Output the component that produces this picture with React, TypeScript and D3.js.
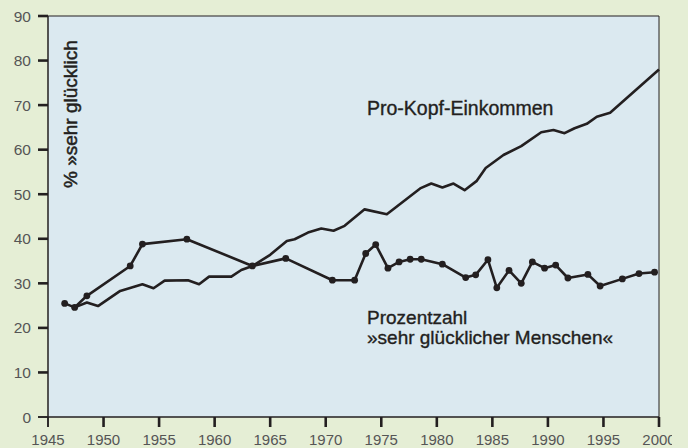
import * as d3 from 'd3';

const WIDTH = 688;
const HEIGHT = 448;
const MARGIN = { top: 16, right: 29, bottom: 31, left: 48 };

// Prozentzahl "sehr glücklicher Menschen" (with dots)
const happyYears = [
    1946.5, 1947.4, 1948.5, 1952.4, 1953.5, 1957.5, 1963.4, 1966.4, 1970.6, 1972.6,
    1973.6, 1974.5, 1975.6, 1976.6, 1977.6, 1978.6, 1980.5, 1982.6, 1983.5, 1984.6,
    1985.4, 1986.5, 1987.6, 1988.6, 1989.7, 1990.7, 1991.8, 1993.6, 1994.7, 1996.7,
    1998.2, 1999.6,
];
const happyValues = [
    25.5, 24.6, 27.2, 33.9, 38.8, 39.9, 33.9, 35.6, 30.7, 30.7,
    36.7, 38.7, 33.4, 34.8, 35.4, 35.4, 34.3, 31.3, 31.9, 35.3,
    29.0, 32.9, 30.0, 34.8, 33.4, 34.1, 31.2, 32.0, 29.4, 31.0,
    32.2, 32.5,
];

// Pro-Kopf-Einkommen (plain line)
const incomeYears = [
    1947.4, 1948.5, 1949.5, 1951.5, 1953.5, 1954.5, 1955.5, 1957.6, 1958.6, 1959.5,
    1961.5, 1962.4, 1963.4, 1965.0, 1966.5, 1967.2, 1968.4, 1969.6, 1970.7, 1971.7,
    1973.5, 1975.5, 1978.5, 1979.5, 1980.5, 1981.5, 1982.5, 1983.6, 1984.4, 1986.0,
    1987.6, 1989.4, 1990.5, 1991.5, 1992.4, 1993.5, 1994.4, 1995.6, 2000,
];
const incomeValues = [
    24.6, 25.7, 24.9, 28.3, 29.8, 28.9, 30.6, 30.7, 29.8, 31.5,
    31.5, 33.0, 33.9, 36.4, 39.5, 39.9, 41.4, 42.3, 41.8, 42.9,
    46.6, 45.5, 51.3, 52.4, 51.5, 52.4, 50.9, 53.0, 55.9, 58.8,
    60.8, 63.9, 64.4, 63.7, 64.8, 65.8, 67.4, 68.3, 78.0,
];

const xTicks = [1945, 1950, 1955, 1960, 1965, 1970, 1975, 1980, 1985, 1990, 1995, 2000];
const yTicks = [0, 10, 20, 30, 40, 50, 60, 70, 80, 90];

const FONT = "'Liberation Sans', Arial, Helvetica, sans-serif";
const INK = '#231f20';

export default function App() {
    const xScale = d3.scaleLinear().domain([1945, 2000]).range([MARGIN.left, WIDTH - MARGIN.right]);
    const yScale = d3.scaleLinear().domain([0, 90]).range([HEIGHT - MARGIN.bottom, MARGIN.top]);

    const line = d3
        .line<[number, number]>()
        .x((d) => xScale(d[0]))
        .y((d) => yScale(d[1]));

    const happy: [number, number][] = happyYears.map((y, i) => [y, happyValues[i]]);
    const income: [number, number][] = incomeYears.map((y, i) => [y, incomeValues[i]]);

    const x0 = xScale(1945);
    const x1 = xScale(2000);
    const y0 = yScale(0);
    const y1 = yScale(90);

    // annotation text is a touch heavier than plain regular in the original
    const heavy = { fill: INK, stroke: INK, strokeWidth: 0.35 };

    return (
        <svg
            width={WIDTH}
            height={HEIGHT}
            style={{ position: 'absolute', left: 0, top: 0, fontFamily: FONT }}
        >
            <defs>
                {/* the last year label is cut off in the original */}
                <clipPath id="labelClip">
                    <rect x={0} y={0} width={672} height={HEIGHT} />
                </clipPath>
            </defs>
            <rect width={WIDTH} height={HEIGHT} fill="#e5eed5" />
            <rect x={x0} y={y1} width={x1 - x0} height={y0 - y1} fill="#dbe9f0" />

            {/* frame */}
            <line x1={x0} x2={x1} y1={y1} y2={y1} stroke={INK} strokeWidth={1} />
            <line x1={x1} x2={x1} y1={y1} y2={y0} stroke={INK} strokeWidth={1} />

            {/* y axis */}
            <line x1={x0} x2={x0} y1={y1} y2={y0 + 10} stroke={INK} strokeWidth={1.5} />
            {yTicks.map((v) => (
                <g key={v}>
                    <line
                        x1={x0 - 10}
                        x2={x0}
                        y1={yScale(v)}
                        y2={yScale(v)}
                        stroke={INK}
                        strokeWidth={v === 0 ? 1.5 : 2.6}
                    />
                    <text
                        x={x0 - 17}
                        y={yScale(v)}
                        dy="0.36em"
                        textAnchor="end"
                        fontSize={15.5}
                        fill="#555"
                    >
                        {v}
                    </text>
                </g>
            ))}

            {/* x axis */}
            <line x1={x0 - 10} x2={x1} y1={y0} y2={y0} stroke={INK} strokeWidth={1.5} />
            <g clipPath="url(#labelClip)">
                {xTicks.map((t) => (
                    <g key={t}>
                        <line
                            x1={xScale(t)}
                            x2={xScale(t)}
                            y1={y0}
                            y2={y0 + 10}
                            stroke={INK}
                            strokeWidth={t === 1945 ? 1.5 : 2.6}
                        />
                        <text
                            x={xScale(t)}
                            y={445}
                            textAnchor="middle"
                            fontSize={15}
                            fill="#555"
                        >
                            {t}
                        </text>
                    </g>
                ))}
            </g>

            {/* series */}
            <path d={line(income) ?? ''} fill="none" stroke={INK} strokeWidth={2.6} strokeLinejoin="round" />
            <path d={line(happy) ?? ''} fill="none" stroke={INK} strokeWidth={2.6} strokeLinejoin="round" />
            {happy.map((d, i) => (
                <circle key={i} cx={xScale(d[0])} cy={yScale(d[1])} r={3.4} fill={INK} />
            ))}

            {/* labels */}
            <text transform={`translate(77,188) rotate(-90)`} fontSize={19} {...heavy} strokeWidth={0.5}>
                % »sehr glücklich
            </text>
            <text x={367} y={115} fontSize={19.5} {...heavy}>
                Pro-Kopf-Einkommen
            </text>
            <text x={367} y={324} fontSize={19} {...heavy}>
                Prozentzahl
            </text>
            <text x={367} y={343.5} fontSize={19} {...heavy}>
                »sehr glücklicher Menschen«
            </text>
        </svg>
    );
}
